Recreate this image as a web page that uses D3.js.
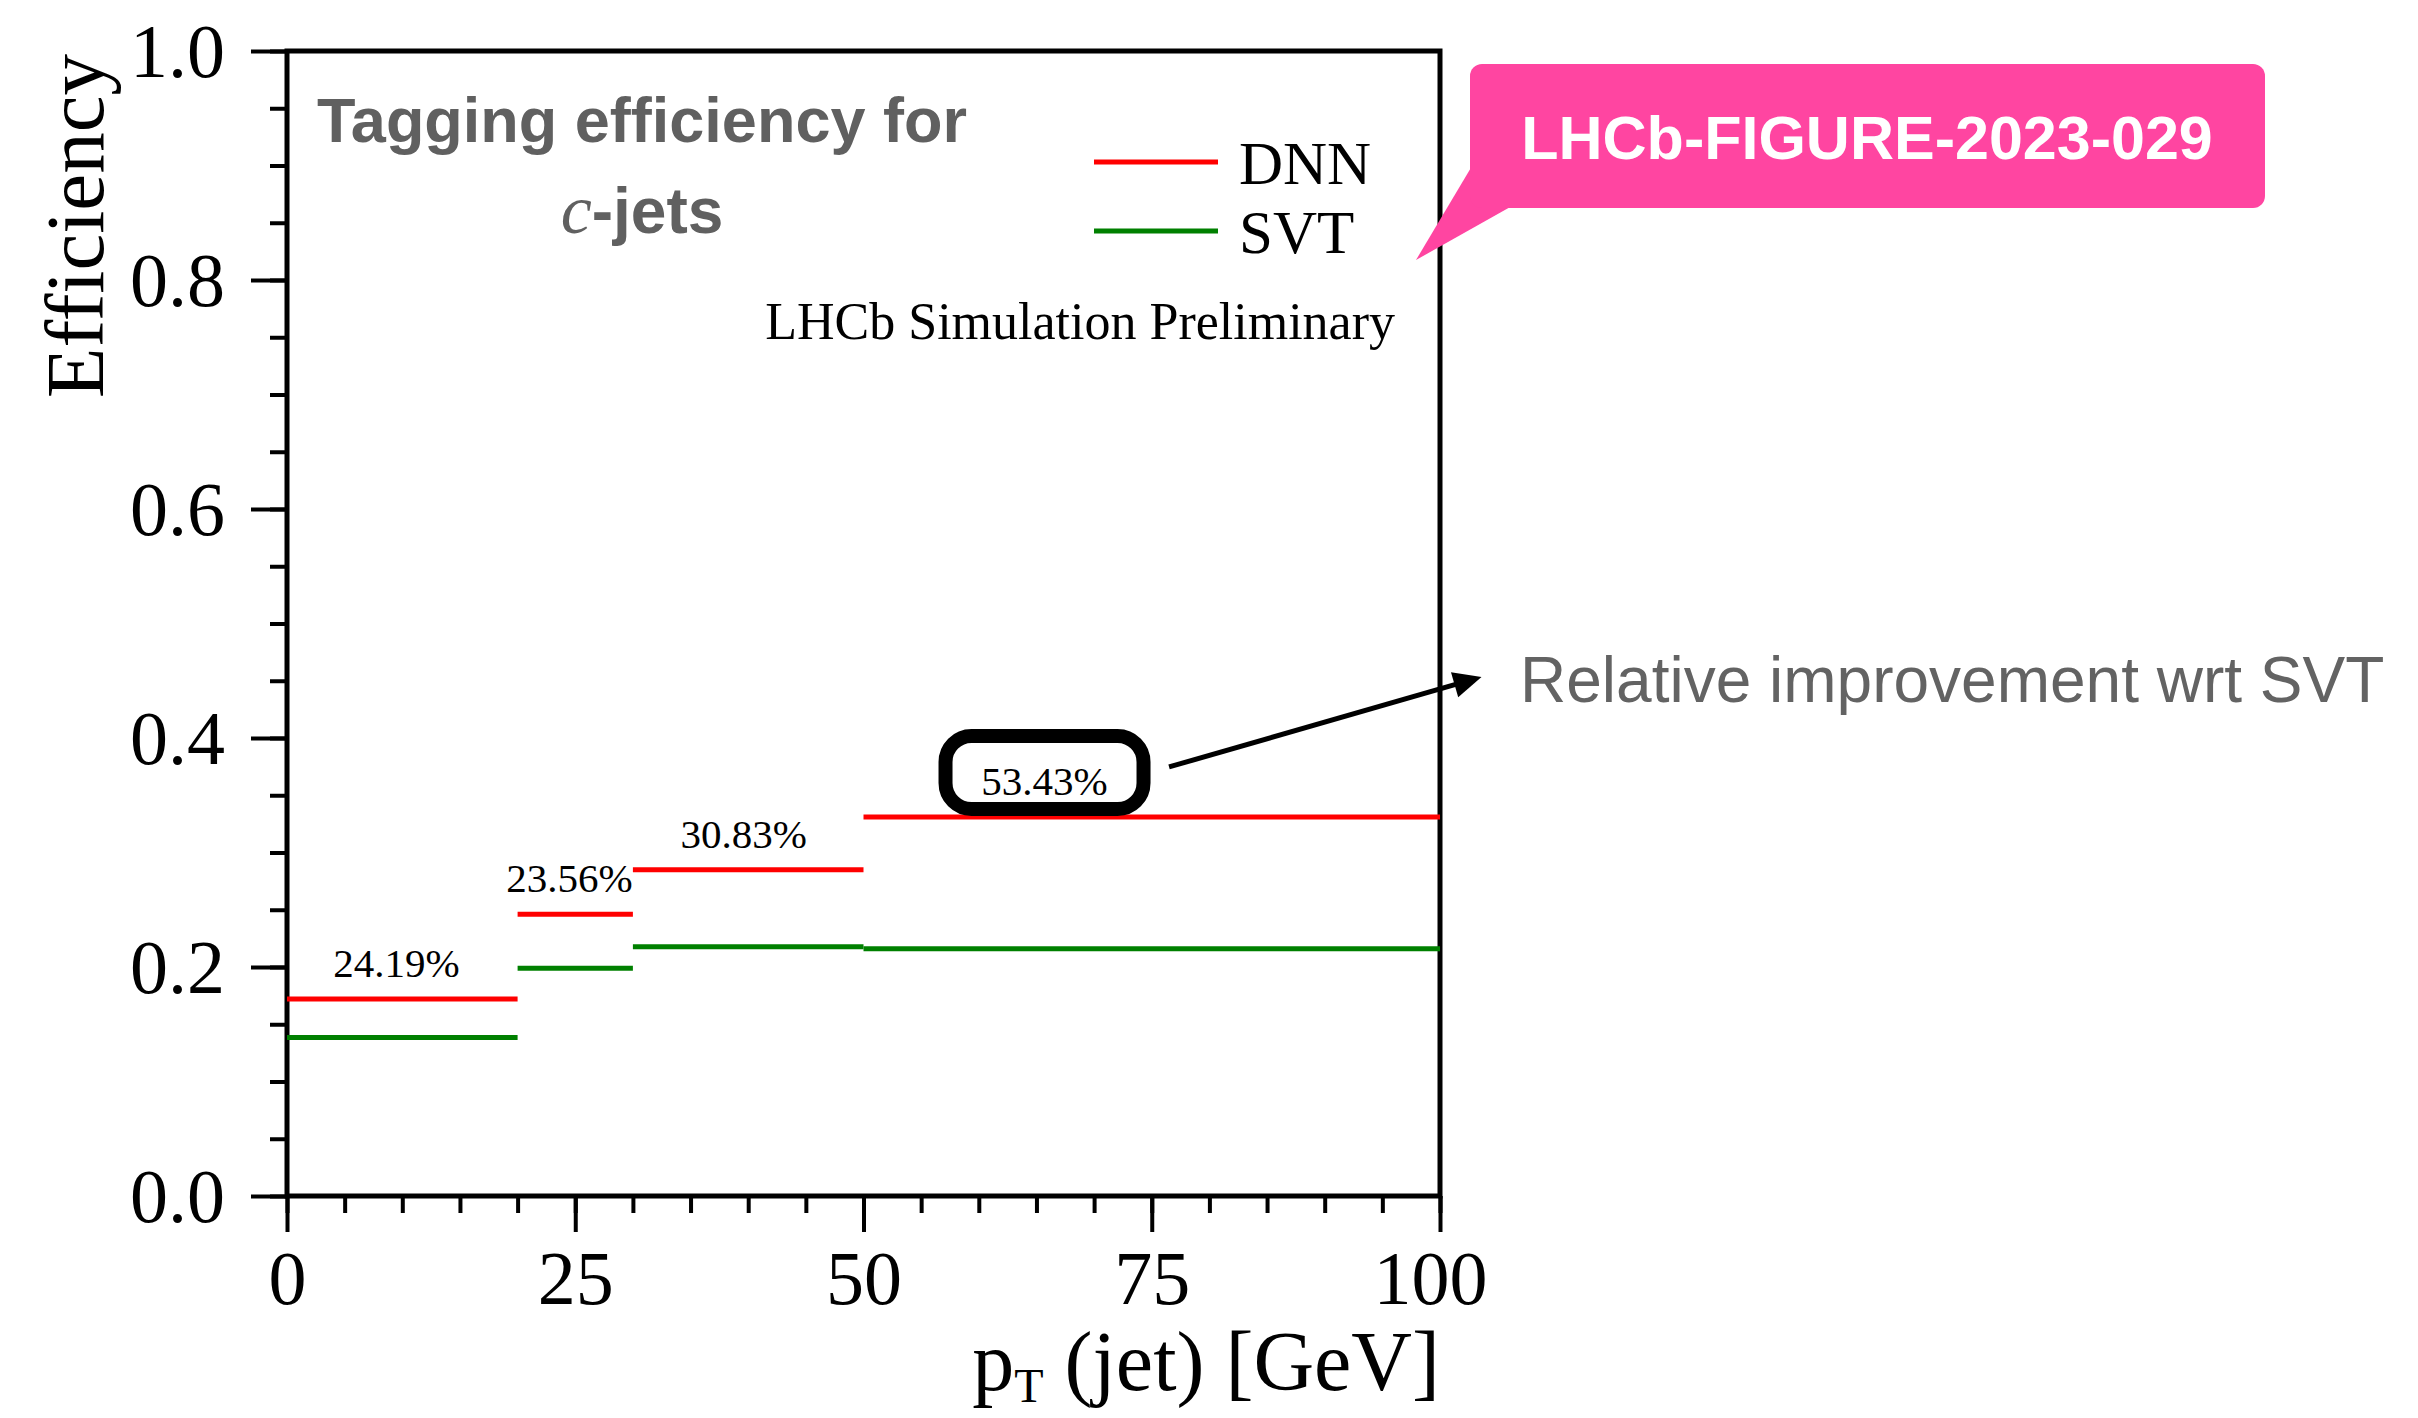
<!DOCTYPE html>
<html>
  <head>
    <meta charset="utf-8">
    <title>Tagging efficiency for c-jets</title>
    <script src="https://d3js.org/d3.v7.min.js"></script>
    <style>
      body { margin: 0; background: #fff; }
      .serif { font-family: "Liberation Serif", "DejaVu Serif", serif; }
      .sans { font-family: "Liberation Sans", Arial, sans-serif; }
      .axis path { display: none; }
      .axis line { stroke: #000; stroke-width: 4px; }
      .axis text { font-family: "Liberation Serif", serif; font-size: 76px; fill: #000; }
    </style>
  </head>
  <body>
    <svg width="2418" height="1418"></svg>
    <script>
      // bins in pT (GeV)
      const binEdges = [0, 20, 30, 50, 100];
      const dnnEff = [0.172, 0.246, 0.285, 0.331];
      const svtEff = [0.1385, 0.199, 0.2177, 0.216];
      const improvLabels = ["24.19%", "23.56%", "30.83%", "53.43%"];
      const labelX = [9.5, 24.5, 39.6, 65.7];   // where each label sits, in GeV

      const xTicks = [0, 25, 50, 75, 100];
      const yTicks = [0.0, 0.2, 0.4, 0.6, 0.8, 1.0];

      const series = [
        {name: "DNN", color: "#ff0000", values: dnnEff},
        {name: "SVT", color: "#008000", values: svtEff}
      ];

      const svg = d3.select("svg");
      const x = d3.scaleLinear().domain([0, 100]).range([287, 1440]);
      const y = d3.scaleLinear().domain([0, 1]).range([1196, 51]);

      // minor ticks first
      svg.append("g").attr("class", "axis")
        .attr("transform", `translate(0,${y(0)})`)
        .call(d3.axisBottom(x).tickValues(d3.range(0, 101, 5)).tickSize(17).tickSizeOuter(0).tickFormat(""));
      svg.append("g").attr("class", "axis")
        .attr("transform", `translate(${x(0)},0)`)
        .call(d3.axisLeft(y).tickValues(d3.range(0, 1.001, 0.05)).tickSize(17).tickSizeOuter(0).tickFormat(""));

      // major ticks + labels
      const xAx = svg.append("g").attr("class", "axis")
        .attr("transform", `translate(0,${y(0)})`)
        .call(d3.axisBottom(x).tickValues(xTicks).tickSize(36).tickSizeOuter(0));
      xAx.selectAll("text").attr("y", 108).attr("dy", 0)
        .attr("dx", d => d === 100 ? -10 : 0);

      const yAx = svg.append("g").attr("class", "axis")
        .attr("transform", `translate(${x(0)},0)`)
        .call(d3.axisLeft(y).tickValues(yTicks).tickSize(36).tickSizeOuter(0).tickFormat(d3.format(".1f")));
      yAx.selectAll("text").attr("x", -62).attr("dy", "0.34em");

      // frame
      svg.append("rect")
        .attr("x", x(0)).attr("y", y(1))
        .attr("width", x(100) - x(0)).attr("height", y(0) - y(1))
        .attr("fill", "none").attr("stroke", "#000").attr("stroke-width", 5);

      // axis titles
      svg.append("text").attr("class", "serif")
        .attr("transform", "translate(103,54) rotate(-90)")
        .attr("text-anchor", "end")
        .attr("font-size", 83)
        .text("Efficiency");

      const xt = svg.append("text").attr("class", "serif")
        .attr("x", 1440).attr("y", 1390)
        .attr("text-anchor", "end")
        .attr("font-size", 84);
      xt.append("tspan").text("p");
      xt.append("tspan").attr("font-size", 48).attr("dy", 12).text("T");
      xt.append("tspan").attr("dy", -12).text(" (jet) [GeV]");

      // step segments
      const bins = d3.range(dnnEff.length);
      series.forEach(s => {
        svg.append("g").selectAll("line")
          .data(bins)
          .join("line")
          .attr("x1", i => x(binEdges[i]))
          .attr("x2", i => x(binEdges[i + 1]))
          .attr("y1", i => y(s.values[i]))
          .attr("y2", i => y(s.values[i]))
          .attr("stroke", s.color)
          .attr("stroke-width", 5);
      });

      // relative improvement labels
      const last = improvLabels.length - 1;
      const lx = x(labelX[last]), ly = y(dnnEff[last]) - 22;
      svg.append("rect")
        .attr("x", lx - 99).attr("y", ly - 59)
        .attr("width", 198).attr("height", 73)
        .attr("rx", 26).attr("ry", 26)
        .attr("fill", "#fff").attr("stroke", "#000").attr("stroke-width", 14);

      svg.append("g").selectAll("text")
        .data(bins)
        .join("text")
        .attr("class", "serif")
        .attr("x", i => x(labelX[i]))
        .attr("y", i => y(dnnEff[i]) - 22)
        .attr("text-anchor", "middle")
        .attr("font-size", 41)
        .text(i => improvLabels[i]);

      // arrow to the side note
      const a0 = [x(76.5), y(0.3747)], a1 = [x(103.6), y(0.4533)];
      const ang = Math.atan2(a1[1] - a0[1], a1[0] - a0[0]);
      const hl = 28, hw = 13;
      const back = [a1[0] - hl * Math.cos(ang), a1[1] - hl * Math.sin(ang)];
      svg.append("line")
        .attr("x1", a0[0]).attr("y1", a0[1])
        .attr("x2", back[0] + 2 * Math.cos(ang)).attr("y2", back[1] + 2 * Math.sin(ang))
        .attr("stroke", "#000").attr("stroke-width", 5);
      svg.append("polygon")
        .attr("points", [
          a1,
          [back[0] - hw * Math.sin(ang), back[1] + hw * Math.cos(ang)],
          [back[0] + hw * Math.sin(ang), back[1] - hw * Math.cos(ang)]
        ].map(p => p.join(",")).join(" "))
        .attr("fill", "#000");

      svg.append("text").attr("class", "sans")
        .attr("x", 1520).attr("y", 702)
        .attr("font-size", 64).attr("fill", "#636363")
        .text("Relative improvement wrt SVT");

      // legend
      const leg = svg.append("g").selectAll("g")
        .data(series)
        .join("g")
        .attr("transform", (d, i) => `translate(1094,${162 + i * 69})`);
      leg.append("line")
        .attr("x1", 0).attr("x2", 124)
        .attr("stroke", d => d.color).attr("stroke-width", 5);
      leg.append("text").attr("class", "serif")
        .attr("x", 145).attr("y", 22)
        .attr("font-size", 61)
        .text(d => d.name);

      svg.append("text").attr("class", "serif")
        .attr("x", 1395).attr("y", 339)
        .attr("text-anchor", "end")
        .attr("font-size", 52)
        .text("LHCb Simulation Preliminary");

      // title block inside the frame
      svg.append("text").attr("class", "sans")
        .attr("x", 642).attr("y", 142)
        .attr("text-anchor", "middle")
        .attr("font-size", 63).attr("font-weight", "bold").attr("fill", "#606060")
        .text("Tagging efficiency for");
      const t2 = svg.append("text")
        .attr("x", 642).attr("y", 233)
        .attr("text-anchor", "middle")
        .attr("fill", "#606060");
      t2.append("tspan").attr("class", "serif").attr("font-style", "italic").attr("font-size", 70).text("c");
      t2.append("tspan").attr("class", "sans").attr("font-weight", "bold").attr("font-size", 64).text("-jets");

      // pink callout
      svg.append("polygon")
        .attr("points", "1472,166 1416,260 1512,206")
        .attr("fill", "#ff45a1");
      svg.append("rect")
        .attr("x", 1470).attr("y", 64)
        .attr("width", 795).attr("height", 144)
        .attr("rx", 12).attr("ry", 12)
        .attr("fill", "#ff45a1");
      svg.append("text").attr("class", "sans")
        .attr("x", 1867).attr("y", 159)
        .attr("text-anchor", "middle")
        .attr("font-size", 61).attr("font-weight", "bold").attr("fill", "#fff")
        .text("LHCb-FIGURE-2023-029");
    </script>
  </body>
</html>
